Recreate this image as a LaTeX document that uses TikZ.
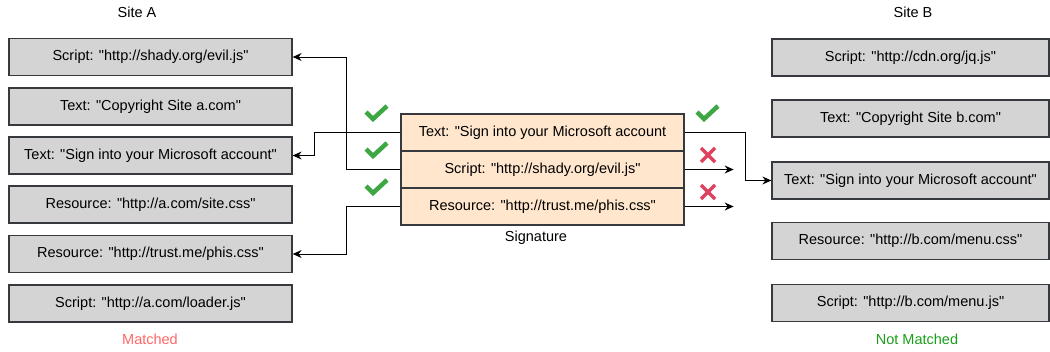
\documentclass[tikz,border=0pt]{standalone}
\usepackage{fontspec}
\setmainfont{Liberation Sans}[Ligatures=TeXOff]
\usetikzlibrary{arrows.meta}
\definecolor{boxgray}{HTML}{D4D4D4}
\definecolor{boxline}{HTML}{36393D}
\definecolor{sigfill}{HTML}{FFE6CC}
\definecolor{okgreen}{HTML}{3DA843}
\definecolor{badred}{HTML}{E0405C}
\definecolor{matchred}{HTML}{FF6666}
\definecolor{nmgreen}{HTML}{1A9E1A}
\begin{document}
\begin{tikzpicture}[x=1pt,y=-1pt,
  font=\fontsize{14.5}{17}\selectfont,
  itembox/.style={draw=boxline, fill=boxgray, line width=1.3pt, minimum width=283pt, minimum height=37pt, inner sep=0pt},
  itemboxb/.style={itembox, minimum width=277pt},
  sigrow/.style={draw=boxline, fill=sigfill, line width=1.3pt, minimum width=283pt, minimum height=37pt, inner sep=0pt},
  conn/.style={draw=black, line width=1pt, -{Stealth[length=9pt,width=8pt,inset=3pt]}},
  connthick/.style={conn, line width=1.6pt},
  okmark/.pic={\draw[okgreen, line width=4.5pt] (-10,0) -- (-3,7) -- (11,-6);},
  badmark/.pic={\draw[badred, line width=3.5pt] (-7,-7) -- (7,7) (-7,7) -- (7,-7);},
]
\useasboundingbox (0,0) rectangle (1050,351);
% Site A
\node (siteA) at (137,12) {Site A};
\node[itembox] (a1) at (150.5,57) {Script: "http://shady.org/evil.js"};
\node[itembox] (a2) at (150.5,106.5) {Text: "Copyright Site a.com"};
\node[itembox] (a3) at (150.5,155.5) {Text: "Sign into your Microsoft account"};
\node[itembox] (a4) at (150.5,204.5) {Resource: "http://a.com/site.css"};
\node[itembox] (a5) at (150.5,254) {Resource: "http://trust.me/phis.css"};
\node[itembox] (a6) at (150.5,303.5) {Script: "http://a.com/loader.js"};
\node[text=matchred] (mA) at (150,339) {Matched};
% Site B
\node (siteB) at (913,12) {Site B};
\node[itemboxb] (b1) at (910.5,57.5) {Script: "http://cdn.org/jq.js"};
\node[itemboxb] (b2) at (910.5,118.5) {Text: "Copyright Site b.com"};
\node[itemboxb] (b3) at (910.5,180.5) {Text: "Sign into your Microsoft account"};
\node[itemboxb] (b4) at (910.5,241) {Resource: "http://b.com/menu.css"};
\node[itemboxb] (b5) at (910.5,303) {Script: "http://b.com/menu.js"};
\node[text=nmgreen] (mB) at (917,339) {Not Matched};
% Signature
\node[sigrow] (s1) at (542.5,132.5) {Text: "Sign into your Microsoft account};
\node[sigrow] (s2) at (542.5,169.5) {Script: "http://shady.org/evil.js"};
\node[sigrow] (s3) at (542.5,206.5) {Resource: "http://trust.me/phis.css"};
\node (sigl) at (536,238) {Signature};
% connectors
\draw[conn] (s1.west) -- ++(-86,0) |- (a3.east);
\draw[conn] (s2.west) -- ++(-54,0) |- (a1.east);
\draw[conn] (s3.west) -- ++(-54,0) |- (a5.east);
\draw[conn] (s1.east) -- ++(61,0) |- (b3.west);
\draw[connthick] (s2.east) -- ++(49,0);
\draw[conn] (s3.east) -- ++(49,0);
% marks
\pic at (376,112) {okmark};
\pic at (376,149) {okmark};
\pic at (376,186) {okmark};
\pic at (707,112) {okmark};
\pic at (708,155) {badmark};
\pic at (708,192) {badmark};
\end{tikzpicture}
\end{document}
